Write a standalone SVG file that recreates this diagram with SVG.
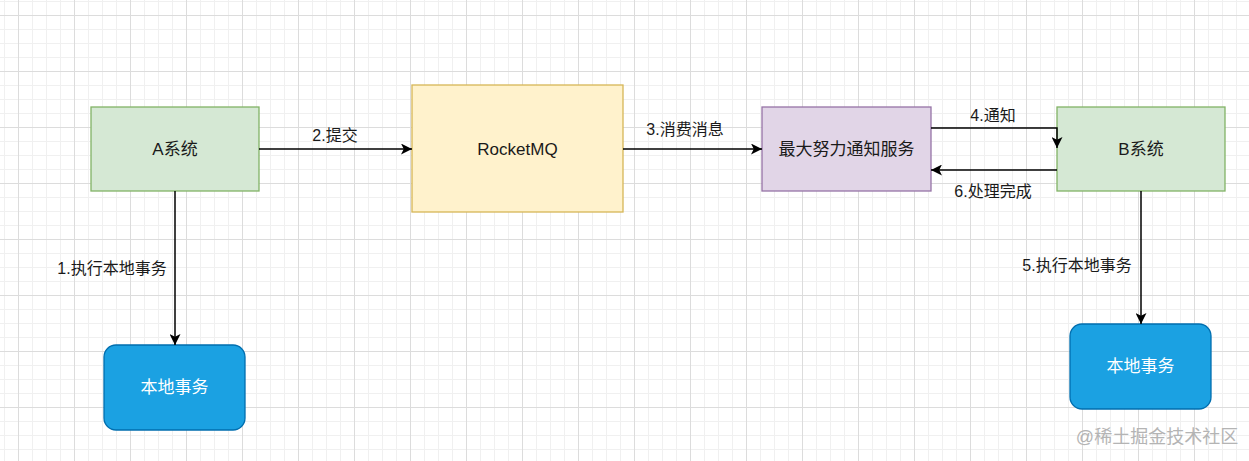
<svg xmlns="http://www.w3.org/2000/svg" width="1249" height="461" viewBox="0 0 1249 461">
  <defs>
    <pattern id="minor" x="4" y="1" width="14" height="14" patternUnits="userSpaceOnUse">
      <path d="M0.5,0 V14 M0,0.5 H14" fill="none" stroke="#f0f0f0" stroke-width="1"/>
    </pattern>
    <pattern id="major" x="18" y="15" width="56" height="56" patternUnits="userSpaceOnUse">
      <path d="M0.5,0 V56 M0,0.5 H56" fill="none" stroke="#dcdcdc" stroke-width="1"/>
    </pattern>
    <marker id="arrow" viewBox="0 0 10 10" refX="10" refY="5" markerWidth="11" markerHeight="11" markerUnits="userSpaceOnUse" orient="auto">
      <path d="M0,0 L10,5 L0,10 L2.5,5 Z" fill="#000"/>
    </marker>
    <style>
      text { font-family: "Liberation Sans", "Noto Sans CJK SC", sans-serif; text-anchor: middle; dominant-baseline: central; }
      .node { font-size: 17px; fill: #1a1a1a; }
      .label { font-size: 16px; fill: #1a1a1a; }
      .white { font-size: 17px; fill: #ffffff; }
      .green { fill: #d5e8d4; stroke: #82b366; stroke-width: 1.3; }
      .yellow { fill: #fff2cc; stroke: #d6b656; stroke-width: 1.3; }
      .purple { fill: #e1d5e7; stroke: #9673a6; stroke-width: 1.3; }
      .blue { fill: #1ba1e2; stroke: #006eaf; stroke-width: 1.3; }
      .edge { fill: none; stroke: #000; stroke-width: 1.5; marker-end: url(#arrow); }
    </style>
  </defs>
  <rect width="1249" height="461" fill="#ffffff"/>
  <rect width="1249" height="461" fill="url(#minor)"/>
  <rect width="1249" height="461" fill="url(#major)"/>

  <g id="node-a">
    <rect class="green" x="91" y="107" width="168" height="84"/>
    <text class="node" x="175" y="149">A系统</text>
  </g>
  <g id="node-rocketmq">
    <rect class="yellow" x="412" y="85" width="211" height="127"/>
    <text class="node" x="517.5" y="149">RocketMQ</text>
  </g>
  <g id="node-notify">
    <rect class="purple" x="762" y="107" width="169" height="84"/>
    <text class="node" x="846.5" y="149">最大努力通知服务</text>
  </g>
  <g id="node-b">
    <rect class="green" x="1057" y="107" width="168" height="84"/>
    <text class="node" x="1141" y="149">B系统</text>
  </g>
  <g id="node-local-a">
    <rect class="blue" x="104" y="345" width="141" height="85" rx="12" ry="12"/>
    <text class="white" x="174.5" y="387.5">本地事务</text>
  </g>
  <g id="node-local-b">
    <rect class="blue" x="1070" y="324" width="141" height="85" rx="12" ry="12"/>
    <text class="white" x="1140.5" y="366.5">本地事务</text>
  </g>

  <g id="connectors">
    <path class="edge" d="M259,149 H412"/>
    <path class="edge" d="M623,149 H762"/>
    <path class="edge" d="M931,128 H1057 V148"/>
    <path class="edge" d="M1057,170 H931"/>
    <path class="edge" d="M175,191 V345"/>
    <path class="edge" d="M1141,191 V324"/>
    <text class="label" x="335" y="135">2.提交</text>
    <text class="label" x="685" y="129">3.消费消息</text>
    <text class="label" x="993" y="115">4.通知</text>
    <text class="label" x="993" y="191">6.处理完成</text>
    <text class="label" x="112" y="268">1.执行本地事务</text>
    <text class="label" x="1077" y="265">5.执行本地事务</text>
  </g>

  <text x="1157" y="437" style="font-size:18px; fill:#b4b4b4;">@稀土掘金技术社区</text>
</svg>
